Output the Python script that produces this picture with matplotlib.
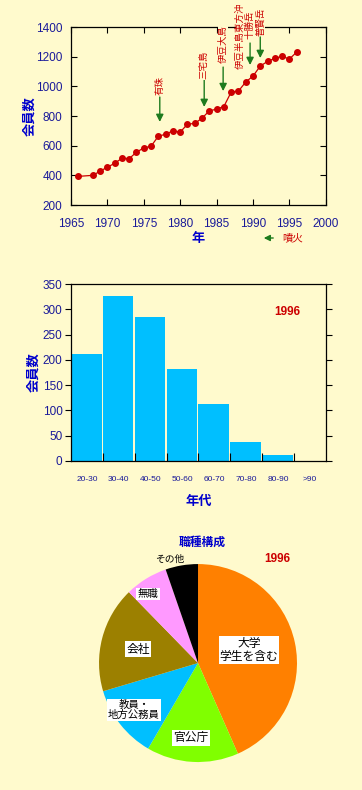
import matplotlib
matplotlib.use("Agg")
import matplotlib.pyplot as plt

plt.rcParams['font.family'] = ['Liberation Sans', 'Noto Sans CJK JP', 'DejaVu Sans']
JP = ['Noto Sans CJK JP', 'DejaVu Sans']

BG = '#FFFACD'
NAVY = '#1A1A99'
BLUE = '#0000CC'
RED = '#CC0000'
GREEN = '#1E7B1E'

# membership by year
years = [1966, 1968, 1969, 1970, 1971, 1972, 1973, 1974, 1975, 1976, 1977, 1978,
         1979, 1980, 1981, 1982, 1983, 1984, 1985, 1986, 1987, 1988, 1989, 1990,
         1991, 1992, 1993, 1994, 1995, 1996]
members = [393, 400, 428, 455, 481, 515, 513, 556, 585, 596, 664, 677,
           700, 691, 745, 750, 785, 835, 846, 864, 961, 968, 1029, 1069,
           1137, 1168, 1189, 1202, 1184, 1231]

# eruptions: name, year, label centre, arrow tail, arrow tip (None = no arrow)
eruption_names = ['有珠', '三宅島', '伊豆大島', '伊豆半島東方沖', '十勝岳', '普賢岳']
eruption_years = [1977.2, 1983.3, 1985.9, 1988.3, 1989.6, 1991.0]
label_y = [1009, 1144, 1285, 1343, 1417, 1437]
arrow_tail = [928, 1043, 1130, None, 1292, 1333]
arrow_tip = [760, 861, 968, None, 1144, 1191]

# age distribution in 1996
age_groups = ['20-30', '30-40', '40-50', '50-60', '60-70', '70-80', '80-90', '>90']
age_counts = [211, 327, 284, 182, 113, 37, 11, 0]

# occupation share in 1996
jobs = ['大学\n学生を含む', '官公庁', '教員・\n地方公務員', '会社', '無職', 'その他']
job_share = [43.4, 15.0, 12.0, 17.3, 7.0, 5.3]
job_colors = ['#FF8000', '#80FF00', '#00BFFF', '#9C8000', '#FF99FF', '#000000']

fig = plt.figure(figsize=(3.62, 7.90), dpi=100, facecolor=BG)

# ---- line chart ----
ax1 = fig.add_axes([0.196, 0.7405, 0.704, 0.2253], facecolor=BG)
ax1.plot(years, members, color=RED, lw=0.9, marker='o', ms=4)
ax1.set_xlim(1965, 2000)
ax1.set_ylim(200, 1400)
ax1.set_xticks(range(1965, 2001, 5))
ax1.set_yticks(range(200, 1401, 200))
ax1.tick_params(direction='in', top=True, right=True, length=4, width=0.8,
                labelsize=8.5, labelcolor=NAVY)
ax1.tick_params(axis='x', pad=9)
ax1.tick_params(axis='y', pad=6)
for s in ax1.spines.values():
    s.set_linewidth(0.9)
ax1.set_ylabel('会員数', family=JP, fontsize=9.5, fontweight='bold', color=BLUE, labelpad=0)
ax1.set_xlabel('年', family=JP, fontsize=9.5, fontweight='bold', color=BLUE, labelpad=1)

for name, x, ly, t0, t1 in zip(eruption_names, eruption_years, label_y, arrow_tail, arrow_tip):
    ax1.text(x, ly, name, family=JP, fontsize=6.8, color=RED, rotation=90,
             ha='center', va='center', clip_on=False, zorder=5,
             bbox=dict(facecolor=BG, edgecolor='none', pad=0.3))
    if t0 is not None:
        ax1.annotate('', xy=(x, t1), xytext=(x, t0),
                     arrowprops=dict(arrowstyle='-|>', color=GREEN, lw=1.0,
                                     mutation_scale=11, shrinkA=0, shrinkB=0))

fig.patches.append(matplotlib.patches.FancyArrowPatch(
    (276 / 362, 1 - 238 / 790), (261 / 362, 1 - 238 / 790), transform=fig.transFigure,
    arrowstyle='-|>', color=GREEN, lw=1.0, mutation_scale=9))
fig.text(282 / 362, 1 - 238 / 790, '噴火', family=JP, fontsize=7.5, color=RED,
         style='italic', va='center', ha='left')

# ---- histogram ----
ax2 = fig.add_axes([0.196, 0.4165, 0.704, 0.224], facecolor=BG)
pos = range(len(age_groups))
ax2.bar(pos, age_counts, width=0.96, color='#00BFFF', align='edge')
ax2.set_xlim(0, len(age_groups))
ax2.set_ylim(0, 350)
ax2.set_yticks(range(0, 351, 50))
ax2.set_xticks(range(1, len(age_groups)))
ax2.set_xticklabels([])
ax2.set_xticks([p + 0.5 for p in pos], minor=True)
ax2.set_xticklabels(age_groups, minor=True)
ax2.tick_params(axis='y', direction='out', right=True, length=4, width=0.8,
                labelsize=8.5, labelcolor=NAVY, pad=2)
ax2.tick_params(axis='x', which='major', direction='in', length=6, width=0.8)
ax2.tick_params(axis='x', which='minor', length=0, labelsize=6, labelcolor=NAVY, pad=11)
for s in ax2.spines.values():
    s.set_linewidth(0.9)
ax2.set_ylabel('会員数', family=JP, fontsize=9.5, fontweight='bold', color=BLUE, labelpad=2)
ax2.set_xlabel('年代', family=JP, fontsize=9.5, fontweight='bold', color=BLUE, labelpad=8)
ax2.text(287 / 362, 1 - 312 / 790, '1996', transform=fig.transFigure, fontsize=8.5,
         fontweight='bold', color=RED, ha='center', va='center')

# ---- pie ----
ax3 = fig.add_axes([0.2735, 0.0354, 0.547, 0.2506], facecolor=BG)
ax3.pie(job_share, colors=job_colors, startangle=90, counterclock=False, radius=1)
ax3.set_xlim(-1, 1)
ax3.set_ylim(-1, 1)
ax3.set_aspect('equal')
ax3.axis('off')

label_pos = [(249, 650), (191, 738), (134, 710), (138, 649), (148, 594)]
label_size = [8.5, 8.5, 7.5, 8.5, 7.5]
for name, (px, py), fs in zip(jobs[:5], label_pos, label_size):
    fig.text(px / 362, 1 - py / 790, name, family=JP, fontsize=fs,
             ha='center', va='center', linespacing=1.05,
             bbox=dict(facecolor='white', edgecolor='none', pad=0.8))
fig.text(170 / 362, 1 - 559 / 790, jobs[5], family=JP, fontsize=7, ha='center', va='center')
fig.text(202 / 362, 1 - 542 / 790, '職種構成', family=JP, fontsize=8.5, fontweight='bold',
         color=BLUE, ha='center', va='center')
fig.text(277 / 362, 1 - 559 / 790, '1996', fontsize=8.5, fontweight='bold', color=RED,
         ha='center', va='center')

fig.savefig('out.png', dpi=100, facecolor=BG)
